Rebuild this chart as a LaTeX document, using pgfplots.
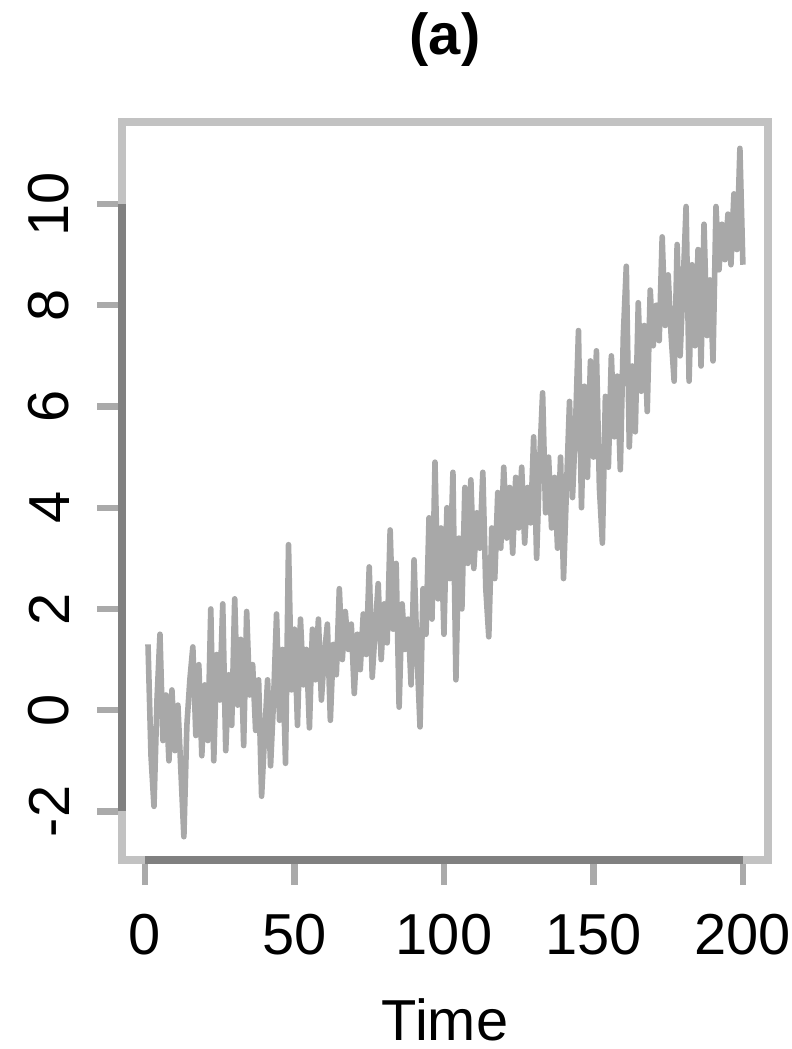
\documentclass[border=0pt]{standalone}
\usepackage{fontspec}
\setmainfont{Liberation Sans}
\usepackage{pgfplots}
\pgfplotsset{compat=1.18}
\definecolor{boxgray}{HTML}{C2C2C2}
\definecolor{axisgray}{HTML}{808080}
\definecolor{tickgray}{HTML}{AAAAAA}
\definecolor{linegray}{HTML}{A8A8A8}
\begin{document}
\fontsize{14.5}{17}\selectfont
\begin{tikzpicture}
\path[use as bounding box] (0,0) rectangle (198bp,-262.25bp);
\begin{axis}[
  at={(30.5bp,-215bp)}, anchor=south west,
  width=161.5bp, height=184.5bp, scale only axis,
  xmin=-7.7, xmax=208.4, ymin=-2.96, ymax=11.62,
  xtick={0,50,100,150,200},
  ytick={-2,0,2,4,6,8,10},
  axis line style={draw=boxgray, line width=1.8bp},
  tick align=outside, major tick length=6.25bp,
  tick style={draw=tickgray, line width=1.6bp},
  xtick pos=bottom, ytick pos=left,
  /pgf/number format/assume math mode=true,
  ticklabel style={font=\fontsize{14.5}{17}\selectfont, text=black},
  yticklabel style={rotate=90, anchor=south, inner sep=0pt, yshift=6.75bp},
  xticklabel style={anchor=north, inner sep=0pt, yshift=-7bp},
  clip=false,
]
% axis lines over the tick range, as in base R graphics
\draw[axisgray, line width=1.8bp] (axis cs:0,-2.96) -- (axis cs:200,-2.96);
\draw[axisgray, line width=1.8bp] (axis cs:-7.7,-2) -- (axis cs:-7.7,10);
\addplot[linegray, line width=1.4bp, line join=round] table[row sep=\\] {
t y\\
1 1.3\\ 2 -0.9\\ 3 -1.9\\ 4 0.2\\ 5 1.5\\ 6 -0.6\\ 7 0.3\\ 8 -1.0\\ 9 0.4\\ 10 -0.8\\
11 0.1\\ 12 -1.2\\ 13 -2.5\\ 14 -0.3\\ 15 0.6\\ 16 1.25\\ 17 -0.5\\ 18 0.9\\ 19 -0.9\\ 20 0.5\\
21 -0.6\\ 22 2.0\\ 23 -1.0\\ 24 1.1\\ 25 0.2\\ 26 2.1\\ 27 -0.8\\ 28 0.7\\ 29 -0.3\\ 30 2.2\\
31 0.1\\ 32 1.4\\ 33 -0.7\\ 34 1.95\\ 35 0.3\\ 36 0.9\\ 37 -0.4\\ 38 0.6\\ 39 -1.7\\ 40 -0.5\\
41 0.6\\ 42 -1.1\\ 43 0.2\\ 44 1.9\\ 45 -0.2\\ 46 1.2\\ 47 -1.05\\ 48 3.27\\ 49 0.4\\ 50 1.6\\
51 -0.3\\ 52 1.8\\ 53 0.5\\ 54 1.2\\ 55 -0.35\\ 56 1.6\\ 57 0.6\\ 58 1.8\\ 59 0.2\\ 60 1.1\\
61 1.7\\ 62 -0.2\\ 63 1.3\\ 64 0.7\\ 65 2.4\\ 66 1.0\\ 67 1.95\\ 68 1.2\\ 69 1.7\\ 70 0.33\\
71 1.5\\ 72 0.8\\ 73 1.9\\ 74 1.1\\ 75 2.83\\ 76 0.65\\ 77 1.6\\ 78 2.5\\ 79 1.0\\ 80 2.1\\
81 1.33\\ 82 3.56\\ 83 1.6\\ 84 2.9\\ 85 0.06\\ 86 2.1\\ 87 1.2\\ 88 1.8\\ 89 0.5\\ 90 2.97\\
91 1.1\\ 92 -0.33\\ 93 2.4\\ 94 1.5\\ 95 3.8\\ 96 1.8\\ 97 4.9\\ 98 2.2\\ 99 3.6\\ 100 1.5\\
101 4.0\\ 102 2.6\\ 103 4.7\\ 104 0.6\\ 105 3.4\\ 106 2.0\\ 107 4.4\\ 108 2.9\\ 109 4.55\\ 110 2.8\\
111 3.9\\ 112 3.2\\ 113 4.7\\ 114 2.4\\ 115 1.45\\ 116 3.6\\ 117 2.6\\ 118 4.3\\ 119 3.2\\ 120 4.8\\
121 3.4\\ 122 4.4\\ 123 3.1\\ 124 4.6\\ 125 3.6\\ 126 4.8\\ 127 3.3\\ 128 4.4\\ 129 3.7\\ 130 5.4\\
131 3.0\\ 132 4.9\\ 133 6.27\\ 134 3.9\\ 135 5.0\\ 136 3.6\\ 137 4.6\\ 138 3.2\\ 139 5.0\\ 140 2.6\\
141 4.4\\ 142 6.1\\ 143 4.2\\ 144 5.6\\ 145 7.5\\ 146 4.0\\ 147 6.4\\ 148 4.6\\ 149 6.9\\ 150 5.0\\
151 7.1\\ 152 4.4\\ 153 3.3\\ 154 6.2\\ 155 4.8\\ 156 7.0\\ 157 5.4\\ 158 6.6\\ 159 4.75\\ 160 7.4\\
161 8.77\\ 162 5.2\\ 163 6.8\\ 164 5.5\\ 165 8.05\\ 166 6.3\\ 167 7.6\\ 168 5.9\\ 169 8.3\\ 170 7.2\\
171 8.0\\ 172 7.3\\ 173 9.35\\ 174 7.6\\ 175 8.6\\ 176 7.4\\ 177 6.5\\ 178 9.2\\ 179 7.0\\ 180 8.4\\
181 9.95\\ 182 6.5\\ 183 8.8\\ 184 7.2\\ 185 9.1\\ 186 6.8\\ 187 9.6\\ 188 7.4\\ 189 8.5\\ 190 6.9\\
191 9.95\\ 192 8.7\\ 193 9.6\\ 194 8.9\\ 195 9.8\\ 196 8.8\\ 197 10.2\\ 198 9.1\\ 199 11.1\\ 200 8.8\\
};
\end{axis}
\node[font=\fontsize{14.5}{17}\selectfont\bfseries] at (111.25bp,-10bp) {(a)};
\node[font=\fontsize{14.5}{17}\selectfont] at (111.25bp,-255bp) {Time};
\end{tikzpicture}
\end{document}
